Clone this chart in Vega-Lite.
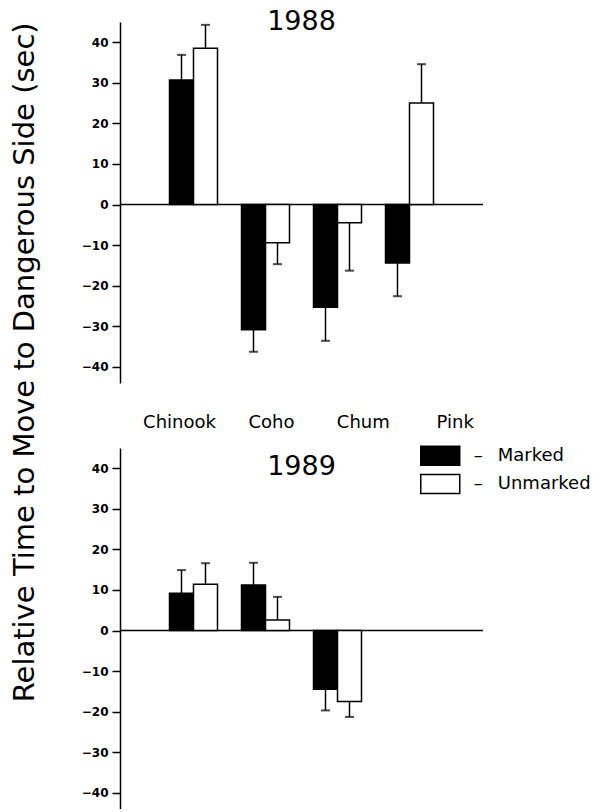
{
  "$schema": "https://vega.github.io/schema/vega-lite/v6.json",
  "padding": {"left": 10, "top": 8, "right": 5, "bottom": 0},
  "background": "white",
  "bounds": "flush",
  "spacing": 65,
  "config": {
    "view": {"stroke": null},
    "font": "DejaVu Sans",
    "axis": {"domainColor": "black", "tickColor": "black", "labelColor": "black", "titleColor": "black", "grid": false}
  },
  "datasets": {
    "bars": [
      {"year": "1988", "species": "Chinook", "status": "Marked", "value": 30.7, "cap": 36.9},
      {"year": "1988", "species": "Chinook", "status": "Unmarked", "value": 38.5, "cap": 44.3},
      {"year": "1988", "species": "Coho", "status": "Marked", "value": -30.9, "cap": -36.3},
      {"year": "1988", "species": "Coho", "status": "Unmarked", "value": -9.4, "cap": -14.7},
      {"year": "1988", "species": "Chum", "status": "Marked", "value": -25.3, "cap": -33.6},
      {"year": "1988", "species": "Chum", "status": "Unmarked", "value": -4.5, "cap": -16.3},
      {"year": "1988", "species": "Pink", "status": "Marked", "value": -14.4, "cap": -22.6},
      {"year": "1988", "species": "Pink", "status": "Unmarked", "value": 25.0, "cap": 34.6},
      {"year": "1989", "species": "Chinook", "status": "Marked", "value": 9.2, "cap": 14.9},
      {"year": "1989", "species": "Chinook", "status": "Unmarked", "value": 11.4, "cap": 16.6},
      {"year": "1989", "species": "Coho", "status": "Marked", "value": 11.2, "cap": 16.7},
      {"year": "1989", "species": "Coho", "status": "Unmarked", "value": 2.6, "cap": 8.3},
      {"year": "1989", "species": "Chum", "status": "Marked", "value": -14.5, "cap": -19.7},
      {"year": "1989", "species": "Chum", "status": "Unmarked", "value": -17.5, "cap": -21.3}
    ],
    "species": [{"sp": "Chinook"}, {"sp": "Coho"}, {"sp": "Chum"}, {"sp": "Pink"}]
  },
  "vconcat": [
    {
      "width": 363,
      "height": 361,
      "layer": [
        {
          "data": {"values": [{}]},
          "mark": {"type": "rule", "color": "black", "strokeWidth": 1.5},
          "encoding": {"y": {"datum": 0, "type": "quantitative", "scale": {"domain": [-44, 45], "nice": false, "zero": false}}}
        },
        {
          "data": {"values": [{"yr": "1988", "pos": 43}]},
          "mark": {"type": "text", "font": "DejaVu Sans", "fontSize": 27, "fontWeight": "normal", "baseline": "alphabetic", "align": "center", "color": "black"},
          "encoding": {"text": {"field": "yr"}, "y": {"field": "pos", "type": "quantitative"}}
        },
        {
          "data": {"name": "bars"},
          "transform": [{"filter": "datum.year === '1988'"}],
          "mark": {"type": "bar", "stroke": "black", "strokeWidth": 1.5},
          "encoding": {
            "x": {"field": "species", "type": "nominal", "scale": {"domain": ["Chinook", "Coho", "Chum", "Pink"], "paddingInner": 0.3333, "paddingOuter": 0.6875}, "axis": null},
            "xOffset": {"field": "status", "type": "nominal", "scale": {"domain": ["Marked", "Unmarked"], "paddingInner": 0, "paddingOuter": 0}},
            "y": {"field": "value", "type": "quantitative", "scale": {"domain": [-44, 45], "nice": false, "zero": false},
              "axis": {"values": [-40, -30, -20, -10, 0, 10, 20, 30, 40], "title": "Relative Time to Move to Dangerous Side (sec)", "titleFont": "DejaVu Sans", "titleFontSize": 29, "titleFontWeight": "normal", "titleX": -86.7, "titleY": 339.8, "titleAngle": -90, "titleAlign": "center", "titleBaseline": "alphabetic", "labelFont": "DejaVu Sans", "labelFontWeight": "bold", "labelFontSize": 12, "labelPadding": 4, "tickSize": 8, "tickWidth": 1.5, "domainWidth": 1.5}},
            "fill": {"field": "status", "type": "nominal", "scale": {"domain": ["Marked", "Unmarked"], "range": ["black", "white"]},
              "legend": {"orient": "none", "legendX": 309.75, "legendY": 423.3, "title": null, "symbolType": "M-2,-0.974H2V0.974H-2Z", "symbolSize": 380, "symbolStrokeColor": "black", "symbolStrokeWidth": 1.5, "labelFont": "DejaVu Sans", "labelFontSize": 18, "labelColor": "black", "labelOffset": 23, "rowPadding": 3.2, "labelExpr": "'–\u00a0\u00a0\u2009' + datum.label"}}
          }
        },
        {
          "data": {"name": "bars"},
          "transform": [{"filter": "datum.year === '1988'"}],
          "mark": {"type": "rule", "color": "black", "strokeWidth": 1.5},
          "encoding": {
            "x": {"field": "species", "type": "nominal", "scale": {"domain": ["Chinook", "Coho", "Chum", "Pink"], "paddingInner": 0.3333, "paddingOuter": 0.6875}, "axis": null},
            "xOffset": {"field": "status", "type": "nominal", "scale": {"domain": ["Marked", "Unmarked"], "paddingInner": 0, "paddingOuter": 0}},
            "y": {"field": "value", "type": "quantitative"},
            "y2": {"field": "cap"}
          }
        },
        {
          "data": {"name": "bars"},
          "transform": [{"filter": "datum.year === '1988'"}],
          "mark": {"type": "tick", "color": "black", "thickness": 2, "size": 9, "orient": "horizontal"},
          "encoding": {
            "x": {"field": "species", "type": "nominal", "scale": {"domain": ["Chinook", "Coho", "Chum", "Pink"], "paddingInner": 0.3333, "paddingOuter": 0.6875}, "axis": null},
            "xOffset": {"field": "status", "type": "nominal", "scale": {"domain": ["Marked", "Unmarked"], "paddingInner": 0, "paddingOuter": 0}},
            "y": {"field": "cap", "type": "quantitative"}
          }
        },
        {
          "data": {"name": "species"},
          "mark": {"type": "point", "opacity": 0},
          "encoding": {
            "x": {"field": "sp", "type": "nominal", "scale": {"type": "point", "domain": ["Chinook", "Coho", "Chum", "Pink"], "padding": 0.475, "align": 0.676},
              "axis": {"orient": "bottom", "title": null, "domain": false, "ticks": false, "tickSize": 0, "labelAngle": 0, "labelFont": "DejaVu Sans", "labelFontSize": 18, "labelFontWeight": "normal", "labelPadding": 44.5, "labelBaseline": "alphabetic", "labelColor": "black"}}
          }
        }
      ],
      "resolve": {"scale": {"x": "independent"}, "axis": {"x": "independent"}}
    },
    {
      "width": 363,
      "height": 361,
      "layer": [
        {
          "data": {"values": [{}]},
          "mark": {"type": "rule", "color": "black", "strokeWidth": 1.5},
          "encoding": {"y": {"datum": 0, "type": "quantitative", "scale": {"domain": [-44, 45], "nice": false, "zero": false}}}
        },
        {
          "data": {"values": [{"yr": "1989", "pos": 38.3}]},
          "mark": {"type": "text", "font": "DejaVu Sans", "fontSize": 27, "fontWeight": "normal", "baseline": "alphabetic", "align": "center", "color": "black"},
          "encoding": {"text": {"field": "yr"}, "y": {"field": "pos", "type": "quantitative"}}
        },
        {
          "data": {"name": "bars"},
          "transform": [{"filter": "datum.year === '1989'"}],
          "mark": {"type": "bar", "stroke": "black", "strokeWidth": 1.5},
          "encoding": {
            "x": {"field": "species", "type": "nominal", "scale": {"domain": ["Chinook", "Coho", "Chum", "Pink"], "paddingInner": 0.3333, "paddingOuter": 0.6875}, "axis": null},
            "xOffset": {"field": "status", "type": "nominal", "scale": {"domain": ["Marked", "Unmarked"], "paddingInner": 0, "paddingOuter": 0}},
            "y": {"field": "value", "type": "quantitative", "scale": {"domain": [-44, 45], "nice": false, "zero": false},
              "axis": {"values": [-40, -30, -20, -10, 0, 10, 20, 30, 40], "title": null, "labelFont": "DejaVu Sans", "labelFontWeight": "bold", "labelFontSize": 12, "labelPadding": 4, "tickSize": 8, "tickWidth": 1.5, "domainWidth": 1.5}},
            "fill": {"field": "status", "type": "nominal", "scale": {"domain": ["Marked", "Unmarked"], "range": ["black", "white"]},
              "legend": {"orient": "none", "legendX": 309.75, "legendY": 423.3, "title": null, "symbolType": "M-2,-0.974H2V0.974H-2Z", "symbolSize": 380, "symbolStrokeColor": "black", "symbolStrokeWidth": 1.5, "labelFont": "DejaVu Sans", "labelFontSize": 18, "labelColor": "black", "labelOffset": 23, "rowPadding": 3.2, "labelExpr": "'–\u00a0\u00a0\u2009' + datum.label"}}
          }
        },
        {
          "data": {"name": "bars"},
          "transform": [{"filter": "datum.year === '1989'"}],
          "mark": {"type": "rule", "color": "black", "strokeWidth": 1.5},
          "encoding": {
            "x": {"field": "species", "type": "nominal", "scale": {"domain": ["Chinook", "Coho", "Chum", "Pink"], "paddingInner": 0.3333, "paddingOuter": 0.6875}, "axis": null},
            "xOffset": {"field": "status", "type": "nominal", "scale": {"domain": ["Marked", "Unmarked"], "paddingInner": 0, "paddingOuter": 0}},
            "y": {"field": "value", "type": "quantitative"},
            "y2": {"field": "cap"}
          }
        },
        {
          "data": {"name": "bars"},
          "transform": [{"filter": "datum.year === '1989'"}],
          "mark": {"type": "tick", "color": "black", "thickness": 2, "size": 9, "orient": "horizontal"},
          "encoding": {
            "x": {"field": "species", "type": "nominal", "scale": {"domain": ["Chinook", "Coho", "Chum", "Pink"], "paddingInner": 0.3333, "paddingOuter": 0.6875}, "axis": null},
            "xOffset": {"field": "status", "type": "nominal", "scale": {"domain": ["Marked", "Unmarked"], "paddingInner": 0, "paddingOuter": 0}},
            "y": {"field": "cap", "type": "quantitative"}
          }
        }
      ]
    }
  ]
}
